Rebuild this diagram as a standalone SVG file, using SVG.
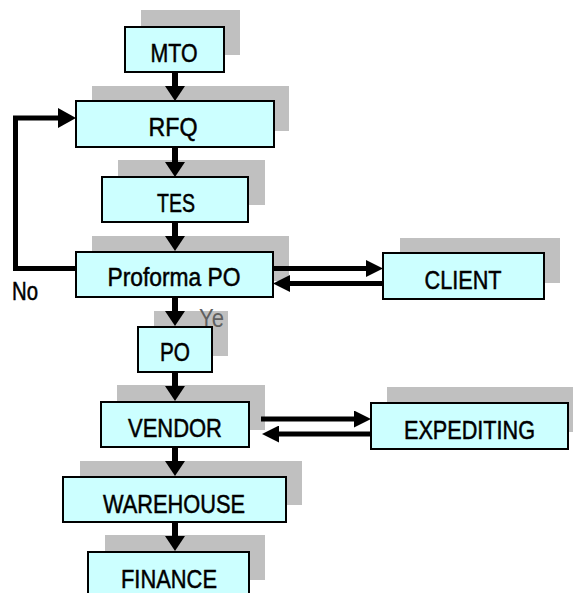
<svg xmlns="http://www.w3.org/2000/svg" width="573" height="593" viewBox="0 0 573 593">
  <style>
    .shadow { fill: #C0C0C0; }
    .box { fill: #CCFFFF; stroke: #000; stroke-width: 2; }
    .label { font-family: "Liberation Sans", Arial, sans-serif; font-size: 26px; fill: #000; text-anchor: middle; stroke: #000; stroke-width: 0.5; }
    .down { stroke: #000; stroke-width: 6; fill: none; }
    .side { stroke: #000; stroke-width: 5; fill: none; }
    .note { font-family: "Liberation Sans", Arial, sans-serif; font-size: 25px; }
  </style>
  <defs>
    <marker id="headDown" markerUnits="userSpaceOnUse" viewBox="0 0 15 20" refX="0" refY="10" markerWidth="15" markerHeight="20" orient="auto">
      <path d="M0,0 L15,10 L0,20 Z" fill="#000"/>
    </marker>
    <marker id="headSide" markerUnits="userSpaceOnUse" viewBox="0 0 17 17" refX="0" refY="8.5" markerWidth="17" markerHeight="17" orient="auto">
      <path d="M0,0 L17,8.5 L0,17 Z" fill="#000"/>
    </marker>
    <marker id="headLoop" markerUnits="userSpaceOnUse" viewBox="0 0 18 20" refX="0" refY="10" markerWidth="18" markerHeight="20" orient="auto">
      <path d="M0,0 L18,10 L0,20 Z" fill="#000"/>
    </marker>
  </defs>

  <rect width="573" height="593" fill="#fff"/>

  <g id="mto">
    <rect class="shadow" x="141" y="10" width="99" height="45"/>
    <rect class="box" x="125" y="27" width="99" height="45"/>
    <text class="label" x="174" y="62" textLength="47" lengthAdjust="spacingAndGlyphs">MTO</text>
  </g>

  <g id="rfq">
    <rect class="shadow" x="92" y="86" width="197" height="45"/>
    <rect class="box" x="76" y="101" width="198" height="46"/>
    <text class="label" x="173" y="136" textLength="49" lengthAdjust="spacingAndGlyphs">RFQ</text>
  </g>

  <g id="tes">
    <rect class="shadow" x="118" y="160" width="147" height="45"/>
    <rect class="box" x="102" y="177" width="146" height="45"/>
    <text class="label" x="176" y="212" textLength="38" lengthAdjust="spacingAndGlyphs">TES</text>
  </g>

  <g id="proforma">
    <rect class="shadow" x="92" y="236" width="197" height="45"/>
    <rect class="box" x="76" y="252" width="197" height="45"/>
    <text class="label" x="174" y="286" textLength="133" lengthAdjust="spacingAndGlyphs">Proforma PO</text>
  </g>

  <g id="client">
    <rect class="shadow" x="400" y="238" width="160" height="45"/>
    <rect class="box" x="383" y="253" width="161" height="46"/>
    <text class="label" x="463" y="288.5" textLength="77" lengthAdjust="spacingAndGlyphs">CLIENT</text>
  </g>

  <g id="po">
    <rect class="shadow" x="154" y="311" width="74" height="45"/>
    <text class="note" x="199" y="327" fill="#606060" textLength="25" lengthAdjust="spacingAndGlyphs">Ye</text>
    <rect class="box" x="138" y="327" width="74" height="45"/>
    <text class="label" x="175" y="361" textLength="30" lengthAdjust="spacingAndGlyphs">PO</text>
  </g>

  <g id="vendor">
    <rect class="shadow" x="117" y="385" width="148" height="45"/>
    <rect class="box" x="101" y="402" width="148" height="45"/>
    <text class="label" x="175" y="437" textLength="94" lengthAdjust="spacingAndGlyphs">VENDOR</text>
  </g>

  <g id="expediting">
    <rect class="shadow" x="387" y="387" width="197" height="45"/>
    <rect class="box" x="371" y="403" width="197" height="46"/>
    <text class="label" x="469.5" y="438.5" textLength="131" lengthAdjust="spacingAndGlyphs">EXPEDITING</text>
  </g>

  <g id="warehouse">
    <rect class="shadow" x="80" y="461" width="222" height="44"/>
    <rect class="box" x="63" y="477" width="223" height="45"/>
    <text class="label" x="174" y="512.5" textLength="142" lengthAdjust="spacingAndGlyphs">WAREHOUSE</text>
  </g>

  <g id="finance">
    <rect class="shadow" x="105" y="535" width="160" height="45"/>
    <rect class="box" x="88" y="552" width="161" height="45"/>
    <text class="label" x="169" y="588" textLength="96" lengthAdjust="spacingAndGlyphs">FINANCE</text>
  </g>

  <text class="note" x="12" y="300" fill="#000" stroke="#000" stroke-width="0.5" textLength="26" lengthAdjust="spacingAndGlyphs">No</text>

  <!-- connectors, drawn on top of the drop shadows -->
  <g id="connectors">
    <path class="down" d="M175,72 V86" marker-end="url(#headDown)"/>
    <path class="down" d="M175,147 V162" marker-end="url(#headDown)"/>
    <path class="down" d="M175,222 V236" marker-end="url(#headDown)"/>
    <path class="down" d="M175,297 V311" marker-end="url(#headDown)"/>
    <path class="down" d="M175,372 V386" marker-end="url(#headDown)"/>
    <path class="down" d="M175,447 V461" marker-end="url(#headDown)"/>
    <path class="down" d="M175,522 V536" marker-end="url(#headDown)"/>
    <!-- rejection loop back to RFQ -->
    <path class="side" d="M76,268.5 H15.5 V118 H58" marker-end="url(#headLoop)"/>
    <!-- Proforma PO <-> CLIENT -->
    <path class="side" d="M273,268.5 H366" marker-end="url(#headSide)"/>
    <path class="side" d="M383,283.5 H290" marker-end="url(#headSide)"/>
    <!-- VENDOR <-> EXPEDITING -->
    <path class="side" d="M261,419 H354" marker-end="url(#headSide)"/>
    <path class="side" d="M371,434 H279" marker-end="url(#headSide)"/>
  </g>
</svg>
